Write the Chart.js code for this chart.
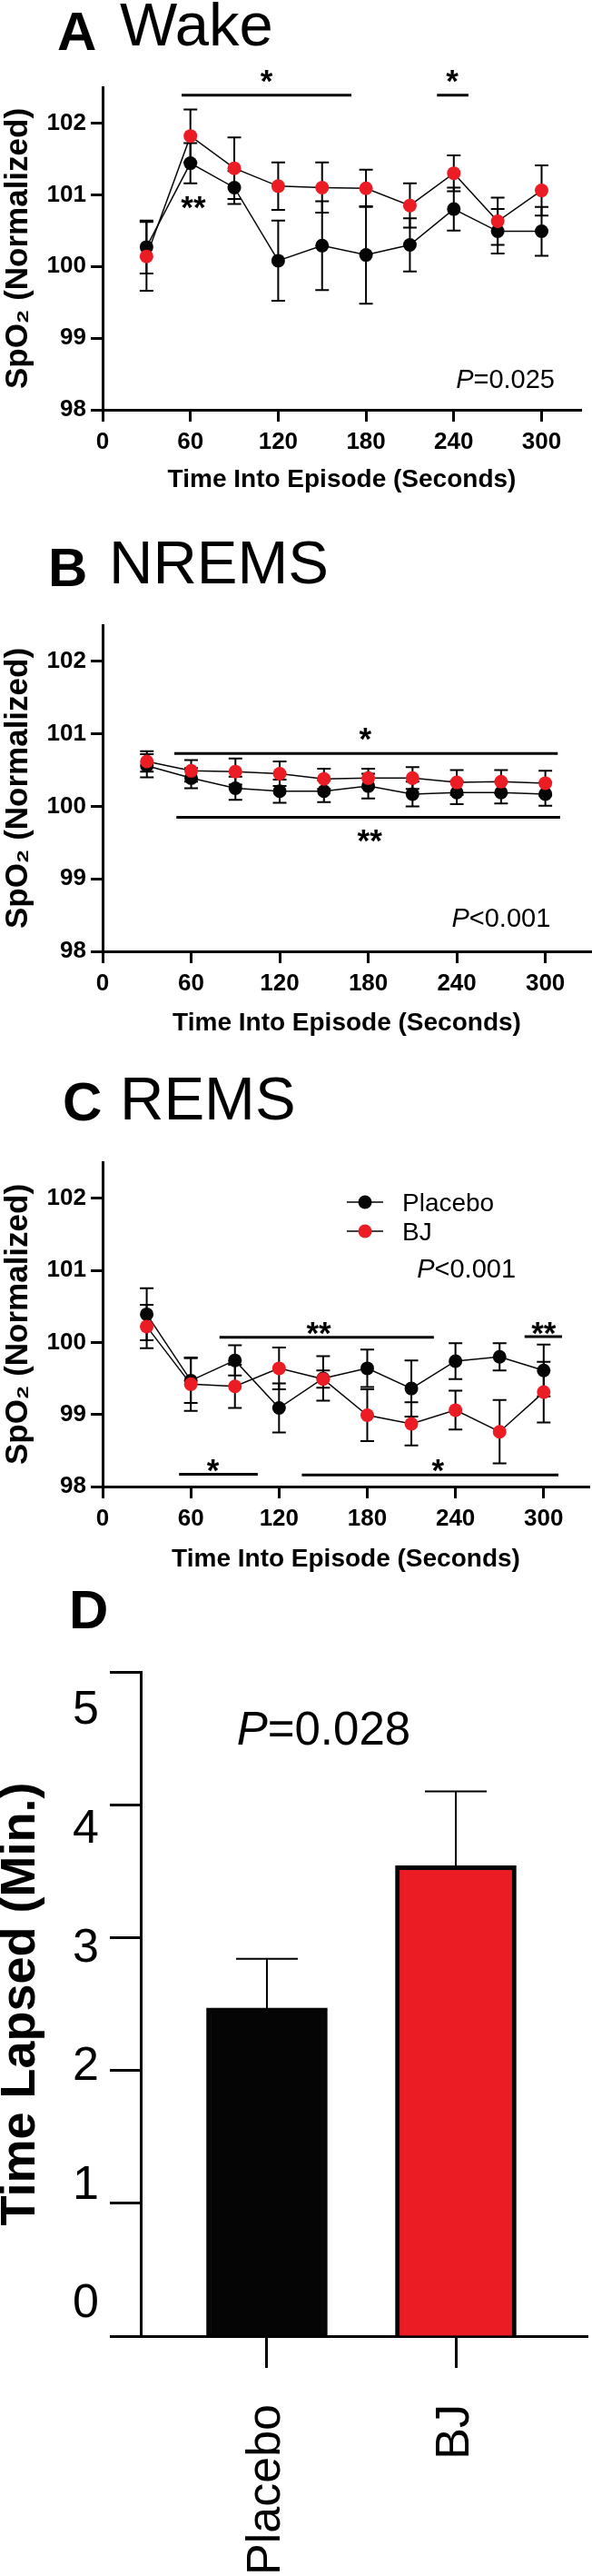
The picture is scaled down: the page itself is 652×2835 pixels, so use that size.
<!DOCTYPE html>
<html>
<head>
<meta charset="utf-8">
<script src="https://cdn.jsdelivr.net/npm/chart.js@4.4.1/dist/chart.umd.min.js"></script>
<style>
  html, body { margin: 0; padding: 0; background: #fff; }
  #wrap { position: relative; width: 652px; height: 2835px; overflow: hidden; }
  canvas { position: absolute; left: 0; }
</style>
</head>
<body>
<div id="wrap">
  <canvas id="wake"  width="652" height="560"  style="top:0px"></canvas>
  <canvas id="nrems" width="652" height="600"  style="top:560px"></canvas>
  <canvas id="rems"  width="652" height="600"  style="top:1160px"></canvas>
  <canvas id="lapse" width="652" height="1105" style="top:1730px"></canvas>
</div>
<script>
const FONT = "'Liberation Sans', Arial, Helvetica, sans-serif";
const NARROW = "'Liberation Sans Narrow', 'Arial Narrow', 'Liberation Sans', Arial, sans-serif";
const RED = '#EC1C24';
const BLACK = '#050505';

Chart.defaults.font.family = FONT;
Chart.defaults.color = '#000';

// --- data ---
const times = [30, 60, 90, 120, 150, 180, 210, 240, 270, 300];
const timeTicks = [0, 60, 120, 180, 240, 300];
const spo2Ticks = [98, 99, 100, 101, 102];
const seriesNames = ['Placebo', 'BJ'];

const wakePlacebo    = [100.27, 101.44, 101.10, 100.08, 100.29, 100.16, 100.30, 100.80, 100.49, 100.49];
const wakePlaceboSem = [0.37, 0.28, 0.23, 0.56, 0.62, 0.68, 0.37, 0.30, 0.31, 0.34];
const wakeBJ         = [100.14, 101.82, 101.37, 101.12, 101.10, 101.09, 100.85, 101.30, 100.63, 101.06];
const wakeBJSem      = [0.48, 0.37, 0.43, 0.33, 0.35, 0.26, 0.31, 0.25, 0.33, 0.35];

const nremsPlacebo    = [100.56, 100.39, 100.25, 100.21, 100.21, 100.28, 100.17, 100.19, 100.19, 100.17];
const nremsPlaceboSem = [0.16, 0.14, 0.16, 0.16, 0.15, 0.17, 0.17, 0.16, 0.15, 0.16];
const nremsBJ         = [100.62, 100.49, 100.48, 100.45, 100.38, 100.39, 100.39, 100.33, 100.34, 100.32];
const nremsBJSem      = [0.14, 0.15, 0.18, 0.17, 0.14, 0.13, 0.15, 0.17, 0.16, 0.17];

const remsPlacebo    = [100.39, 99.47, 99.75, 99.09, 99.50, 99.64, 99.36, 99.74, 99.80, 99.61];
const remsPlaceboSem = [0.36, 0.31, 0.21, 0.34, 0.31, 0.26, 0.39, 0.25, 0.19, 0.36];
const remsBJ         = [100.22, 99.42, 99.39, 99.64, 99.49, 98.99, 98.87, 99.06, 98.76, 99.31];
const remsBJSem      = [0.30, 0.37, 0.30, 0.29, 0.12, 0.36, 0.30, 0.27, 0.44, 0.42];

const lapseTicks = [0, 1, 2, 3, 4, 5];
const lapseMean = [2.47, 3.54];
const lapseSem = [0.37, 0.56];

// significance marks, in data units (x0..x1 = bar span, sx/sy = star centre)
const wakeSig = [
  { x0: 54, x1: 170, y: 102.39, stars: '*', sx: 112, sy: 102.67 },
  { x0: 228.5, x1: 250, y: 102.39, stars: '*', sx: 239, sy: 102.67 },
  { stars: '**', sx: 62, sy: 100.90 }
];
const nremsSig = [
  { x0: 48.6, x1: 308.4, y: 100.73, stars: '*', sx: 178, sy: 101.01 },
  { x0: 50, x1: 310, y: 99.85, stars: '**', sx: 181, sy: 99.60 }
];
const remsSig = [
  { x0: 79.5, x1: 225.3, y: 100.07, stars: '**', sx: 147, sy: 100.21 },
  { x0: 287, x1: 312.5, y: 100.08, stars: '**', sx: 300, sy: 100.21 },
  { x0: 52, x1: 105.5, y: 98.17, stars: '*', sx: 75, sy: 98.30 },
  { x0: 135.5, x1: 310, y: 98.16, stars: '*', sx: 228, sy: 98.30 }
];

// --- plugin: error bars, panel titles, significance marks, P values, legend ---
const extras = {
  id: 'extras',
  beforeDatasetsDraw(chart, args, o) {
    const ctx = chart.ctx, ys = chart.scales.y;
    const cap = o.cap || 7.5;
    chart.data.datasets.forEach((ds, i) => {
      if (!ds.sem) return;
      const meta = chart.getDatasetMeta(i);
      ctx.save();
      ctx.strokeStyle = '#000';
      ctx.lineWidth = o.errWidth || 2;
      meta.data.forEach((el, j) => {
        const v = ds.data[j].y;
        const t = ys.getPixelForValue(v + ds.sem[j]);
        const b = ys.getPixelForValue(v - ds.sem[j]);
        ctx.beginPath();
        ctx.moveTo(el.x, t); ctx.lineTo(el.x, b);
        ctx.moveTo(el.x - cap, t); ctx.lineTo(el.x + cap, t);
        ctx.moveTo(el.x - cap, b); ctx.lineTo(el.x + cap, b);
        ctx.stroke();
      });
      ctx.restore();
    });
  },
  afterDatasetsDraw(chart, args, o) {
    const ctx = chart.ctx, xs = chart.scales.x, ys = chart.scales.y;
    ctx.save();
    ctx.fillStyle = '#000';
    ctx.strokeStyle = '#000';
    ctx.textBaseline = 'alphabetic';

    if (o.panel) {
      const p = o.panel;
      ctx.textAlign = 'left';
      ctx.font = 'bold 60px ' + FONT;
      ctx.fillText(p.letter, p.lx, p.lb);
      if (p.name) {
        ctx.font = '67px ' + FONT;
        ctx.fillText(p.name, p.nx, p.nb);
      }
    }

    (o.sig || []).forEach(s => {
      if (s.x0 != null) {
        const y = ys.getPixelForValue(s.y);
        ctx.lineWidth = 3;
        ctx.beginPath();
        ctx.moveTo(xs.getPixelForValue(s.x0), y);
        ctx.lineTo(xs.getPixelForValue(s.x1), y);
        ctx.stroke();
      }
      ctx.font = 'bold 35px ' + FONT;
      ctx.textAlign = 'center';
      ctx.fillText(s.stars, xs.getPixelForValue(s.sx), ys.getPixelForValue(s.sy) + 18);
    });

    if (o.p) {
      const p = o.p;
      ctx.textAlign = 'left';
      ctx.font = 'italic ' + p.size + 'px ' + FONT;
      const wP = ctx.measureText('P').width;
      ctx.font = p.size + 'px ' + FONT;
      const wR = ctx.measureText(p.op + p.val).width;
      let px = xs.getPixelForValue(p.x);
      if (p.align === 'right') px -= wP + wR;
      const py = ys.getPixelForValue(p.y);
      ctx.font = 'italic ' + p.size + 'px ' + FONT;
      ctx.fillText('P', px, py);
      ctx.font = p.size + 'px ' + FONT;
      ctx.fillText(p.op + p.val, px + wP, py);
    }

    if (o.legend) {
      const L = o.legend;
      chart.data.datasets.forEach((ds, i) => {
        const cy = L.y + i * L.gap;
        ctx.lineWidth = 1.5;
        ctx.beginPath();
        ctx.moveTo(L.x - 20, cy); ctx.lineTo(L.x + 20, cy);
        ctx.stroke();
        ctx.fillStyle = ds.pointBackgroundColor;
        ctx.beginPath();
        ctx.arc(L.x, cy, 7.5, 0, Math.PI * 2);
        ctx.fill();
        ctx.fillStyle = '#000';
        ctx.textAlign = 'left';
        ctx.font = L.size + 'px ' + FONT;
        ctx.fillText(ds.label, L.x + 41, cy + 10);
      });
    }
    ctx.restore();
  }
};
Chart.register(extras);

function spo2Chart(id, placebo, placeboSem, bj, bjSem, o) {
  const pts = arr => times.map((t, i) => ({ x: t, y: arr[i] }));
  return new Chart(document.getElementById(id), {
    type: 'line',
    data: {
      datasets: [
        { label: seriesNames[0], data: pts(placebo), sem: placeboSem, order: 2,
          borderColor: BLACK, borderWidth: 1.5, pointBackgroundColor: BLACK,
          pointBorderWidth: 0, pointRadius: 7.5, tension: 0 },
        { label: seriesNames[1], data: pts(bj), sem: bjSem, order: 1,
          borderColor: BLACK, borderWidth: 1.5, pointBackgroundColor: RED,
          pointBorderWidth: 0, pointRadius: 7.5, tension: 0 }
      ]
    },
    options: {
      responsive: false,
      animation: false,
      events: [],
      layout: { padding: o.pad, autoPadding: false },
      plugins: { legend: { display: false }, tooltip: { enabled: false }, extras: o.extras },
      scales: {
        x: {
          type: 'linear', min: 0, max: o.xMax,
          afterBuildTicks: s => { s.ticks = timeTicks.map(v => ({ value: v })); },
          afterFit: s => { s.height = o.xH; },
          grid: { drawOnChartArea: false, drawTicks: true, tickLength: 13, tickWidth: 3, tickColor: '#000' },
          border: { display: true, width: 3, color: '#000' },
          ticks: { font: { size: 26, weight: 'bold' }, padding: 7, color: '#000', maxRotation: 0 },
          title: { display: true, text: 'Time Into Episode (Seconds)', color: '#000',
                   font: { size: 28, weight: 'bold', lineHeight: 1.2 }, padding: { top: 0, bottom: 1 } }
        },
        y: {
          min: 98, max: 102.5,
          afterBuildTicks: s => { s.ticks = spo2Ticks.map(v => ({ value: v })); },
          afterFit: s => { s.width = 113; },
          grid: { drawOnChartArea: false, drawTicks: true, tickLength: 13, tickWidth: 3, tickColor: '#000' },
          border: { display: true, width: 3, color: '#000' },
          ticks: { font: { size: 26, weight: 'bold' }, padding: 5, color: '#000' },
          title: { display: true, text: 'SpO₂ (Normalized)', color: '#000',
                   font: { family: NARROW, size: 35, weight: 'bold', lineHeight: 1 }, padding: { top: 3, bottom: 0 } }
        }
      }
    }
  });
}

spo2Chart('wake', wakePlacebo, wakePlaceboSem, wakeBJ, wakeBJSem, {
  xMax: 327, xH: 95,
  pad: { top: 96, right: 12, bottom: 14, left: 0 },
  extras: {
    panel: { letter: 'A', lx: 63, lb: 55, name: 'Wake', nx: 132, nb: 50 },
    sig: wakeSig,
    p: { op: '=', val: '0.025', x: 309, y: 98.31, size: 29, align: 'right' }
  }
});

spo2Chart('nrems', nremsPlacebo, nremsPlaceboSem, nremsBJ, nremsBJSem, {
  xMax: 331, xH: 97,
  pad: { top: 128, right: 1, bottom: 16, left: 0 },
  extras: {
    panel: { letter: 'B', lx: 53, lb: 85, name: 'NREMS', nx: 120, nb: 82 },
    sig: nremsSig,
    p: { op: '<', val: '0.001', x: 303.5, y: 98.34, size: 29, align: 'right' }
  }
});

spo2Chart('rems', remsPlacebo, remsPlaceboSem, remsBJ, remsBJSem, {
  xMax: 331, xH: 98,
  pad: { top: 119, right: 3, bottom: 26, left: 0 },
  extras: {
    panel: { letter: 'C', lx: 69, lb: 73, name: 'REMS', nx: 132, nb: 72 },
    sig: remsSig,
    p: { op: '<', val: '0.001', x: 281, y: 100.90, size: 29, align: 'right' },
    legend: { x: 402, y: 163, gap: 32, size: 28 }
  }
});

// --- panel D: bar chart ---
new Chart(document.getElementById('lapse'), {
  type: 'bar',
  data: {
    datasets: [{
      label: 'Time Lapsed',
      data: seriesNames.map((g, i) => ({ x: i, y: lapseMean[i] })),
      sem: lapseSem,
      backgroundColor: [BLACK, RED],
      borderColor: BLACK,
      borderWidth: 5,
      barThickness: 133
    }]
  },
  options: {
    responsive: false,
    animation: false,
    events: [],
    layout: { padding: { top: 110, right: 5, bottom: 0, left: 0 }, autoPadding: false },
    plugins: {
      legend: { display: false }, tooltip: { enabled: false },
      extras: {
        cap: 34, errWidth: 2,
        panel: { letter: 'D', lx: 76, lb: 62 },
        p: { op: '=', val: '0.028', x: -0.16, y: 4.45, size: 51, align: 'left' }
      }
    },
    scales: {
      x: {
        type: 'linear', min: -0.668, max: 1.697, offset: false,
        afterBuildTicks: s => { s.ticks = seriesNames.map((g, i) => ({ value: i })); },
        afterFit: s => { s.height = 264; },
        grid: { offset: false, drawOnChartArea: false, drawTicks: true, tickLength: 35, tickWidth: 3, tickColor: '#000' },
        border: { display: true, width: 3, color: '#000' },
        ticks: { callback: v => seriesNames[v], font: { size: 52 }, color: '#000',
                 minRotation: 90, maxRotation: 90, autoSkip: false, padding: 40 }
      },
      y: {
        min: 0, max: 5,
        afterBuildTicks: s => { s.ticks = lapseTicks.map(v => ({ value: v })); },
        afterFit: s => { s.width = 34; },
        grid: { drawOnChartArea: false, drawTicks: true, tickLength: 34, tickWidth: 3, tickColor: '#000' },
        border: { display: true, width: 3, color: '#000' },
        ticks: { display: false }
      },
      yl: {
        position: 'left', weight: 1,
        min: -0.268, max: 5.329,
        afterBuildTicks: s => { s.ticks = lapseTicks.map(v => ({ value: v })); },
        afterFit: s => { s.width = 121; },
        grid: { display: false, drawTicks: false },
        border: { display: false },
        ticks: { font: { size: 52 }, padding: 12, color: '#000' },
        title: { display: true, text: 'Time Lapsed (Min.)', color: '#000',
                 font: { size: 54, weight: 'bold', lineHeight: 0.85 }, padding: { top: 0, bottom: 0 } }
      }
    }
  }
});
</script>
</body>
</html>
